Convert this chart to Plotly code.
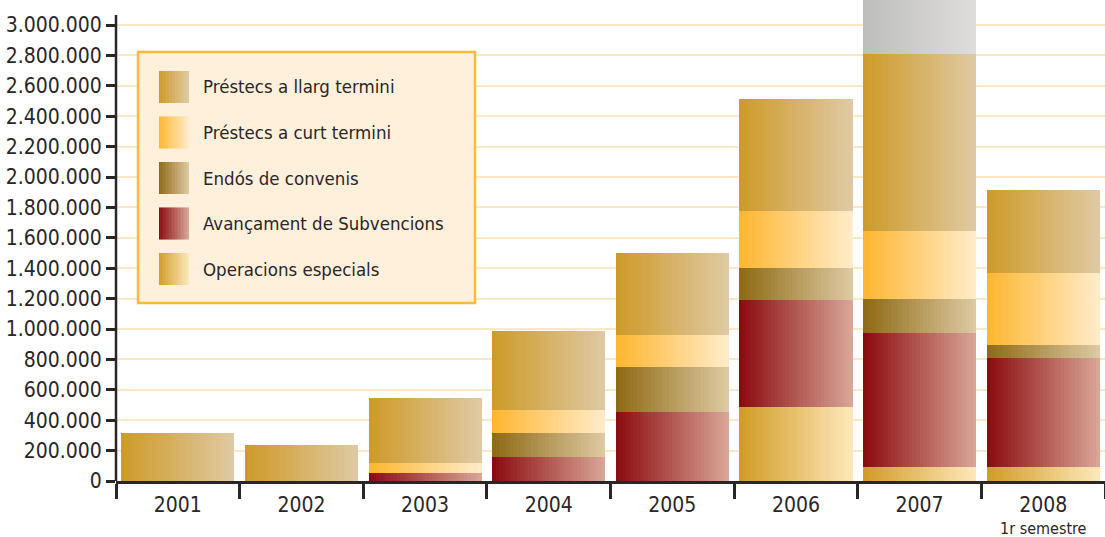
import plotly.graph_objects as go

# ---------------- data ----------------
years = ["2001", "2002", "2003", "2004", "2005", "2006", "2007", "2008"]
operacions_especials = [0, 0, 0, 0, 0, 484000, 89000, 95000]
avancament_subvencions = [0, 0, 51000, 161000, 451000, 705000, 882000, 714000]
endos_convenis = [0, 0, 0, 158000, 296000, 210000, 224000, 83000]
prestecs_curt = [0, 0, 66000, 145000, 211000, 378000, 448000, 476000]
prestecs_llarg = [316000, 237000, 426000, 520000, 540000, 735000, 1166000, 545000]
altres = [0, 0, 0, 0, 0, 0, 400000, 0]

y_tick_values = list(range(0, 3000001, 200000))
y_tick_labels = [f"{v:,}".replace(",", ".") for v in y_tick_values]

legend_labels = ["Préstecs a llarg termini", "Préstecs a curt termini", "Endós de convenis",
                 "Avançament de Subvencions", "Operacions especials"]
subtitle_2008 = "1r semestre"

# ---------------- styles ----------------
series = [
    ("Operacions especials", operacions_especials, (0xD1, 0x9B, 0x25), (0xFE, 0xE8, 0xBC)),
    ("Avançament de Subvencions", avancament_subvencions, (0x8A, 0x0A, 0x0E), (0xD9, 0xA7, 0x98)),
    ("Endós de convenis", endos_convenis, (0x8E, 0x69, 0x14), (0xDE, 0xCB, 0xA4)),
    ("Préstecs a curt termini", prestecs_curt, (0xFD, 0xB6, 0x2F), (0xFF, 0xEC, 0xCC)),
    ("Préstecs a llarg termini", prestecs_llarg, (0xCE, 0x9A, 0x28), (0xDF, 0xCA, 0xA6)),
    ("Altres", altres, (0xBD, 0xBD, 0xBD), (0xE0, 0xDE, 0xDB)),
]
legend_colors = {s[0]: (s[2], s[3]) for s in series}

FONT = "Liberation Sans Narrow, DejaVu Sans Condensed, sans-serif"
DARK = "#2a2627"


def lerp(c1, c2, t):
    return "rgb(%d,%d,%d)" % tuple(round(a + (b - a) * t) for a, b in zip(c1, c2))


fig = go.Figure()

N = 32
BW = 0.915
base = [0] * len(years)
for name, vals, cl, cr in series:
    for k in range(N):
        off = -BW / 2 + k * BW / N
        w = BW / N + (0.004 if k < N - 1 else 0)
        fig.add_trace(go.Bar(
            x=years, y=vals, base=base, offset=off, width=w,
            marker=dict(color=lerp(cl, cr, (k + 0.5) / N), line=dict(width=0)),
            name=name, showlegend=False, hoverinfo="skip",
        ))
    base = [b + v for b, v in zip(base, vals)]

# ---------------- layout ----------------
W, H = 1105, 537
ML, MB = 116, 56
PW, PH = W - ML, H - MB


def px_x(x):
    return (x - ML) / PW


def px_y(y):
    return (PH - y) / PH


shapes = []
# legend box
shapes.append(dict(type="rect", xref="paper", yref="paper",
                   x0=px_x(138), x1=px_x(475), y0=px_y(303), y1=px_y(52),
                   fillcolor="#FEF0DA", line=dict(color="#FDBA3A", width=2.5), layer="above"))
annotations = []
row_tops = [71, 116.5, 162, 207.5, 253]
NS = 20
for lbl, top in zip(legend_labels, row_tops):
    cl, cr = legend_colors[lbl]
    for k in range(NS):
        x0 = 159 + k * 30 / NS
        x1 = x0 + 30 / NS + (0.4 if k < NS - 1 else 0)
        shapes.append(dict(type="rect", xref="paper", yref="paper",
                           x0=px_x(x0), x1=px_x(x1), y0=px_y(top + 32), y1=px_y(top),
                           fillcolor=lerp(cl, cr, (k + 0.5) / NS), line=dict(width=0), layer="above"))
    annotations.append(dict(xref="paper", yref="paper", x=px_x(201), y=px_y(top + 16),
                            xanchor="left", yanchor="middle", text=lbl, showarrow=False,
                            font=dict(family=FONT, size=18.5, color=DARK)))

# y axis line (starts a bit below the top)
shapes.append(dict(type="line", xref="paper", yref="paper", x0=0, x1=0,
                   y0=0, y1=px_y(15), line=dict(color=DARK, width=2.5), layer="above"))

annotations.append(dict(xref="x", yref="paper", x=years.index("2008"), y=px_y(517),
                        xanchor="center", yanchor="top", text=subtitle_2008, showarrow=False,
                        font=dict(family=FONT, size=16, color=DARK)))

fig.update_layout(
    width=W, height=H,
    margin=dict(l=ML, r=0, t=0, b=MB, pad=0),
    paper_bgcolor="white", plot_bgcolor="white",
    barmode="overlay", bargap=0,
    showlegend=False,
    shapes=shapes, annotations=annotations,
    font=dict(family=FONT, color=DARK),
)
fig.update_xaxes(
    type="category", categoryorder="array", categoryarray=years,
    range=[-0.5, len(years) - 0.5], automargin=False,
    showgrid=False, zeroline=False,
    showline=True, linecolor=DARK, linewidth=2.5,
    ticks="outside", tickson="boundaries", ticklen=15, tickwidth=2.5, tickcolor=DARK,
    ticklabelstandoff=3,
    tickfont=dict(family=FONT, size=21, color=DARK),
)
fig.update_yaxes(
    range=[0, 3164500], automargin=False,
    tickmode="array", tickvals=y_tick_values, ticktext=y_tick_labels,
    showgrid=True, gridcolor="#FDE8C6", gridwidth=2,
    zeroline=False, showline=False,
    ticks="outside", ticklen=9, tickwidth=2.5, tickcolor=DARK,
    tickfont=dict(family=FONT, size=21, color=DARK),
)

fig.write_html("out.html", config={"displayModeBar": False},
               post_script="document.body.style.margin='0';document.body.style.overflow='hidden';")
